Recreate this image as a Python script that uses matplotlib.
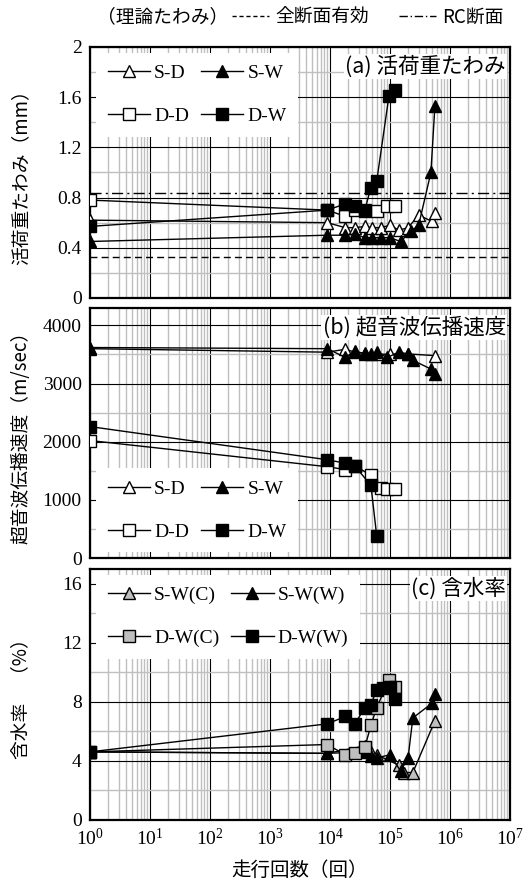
import matplotlib
matplotlib.use("Agg")
import matplotlib.pyplot as plt
from matplotlib.ticker import LogLocator, MultipleLocator, NullFormatter

plt.rcParams["font.family"] = ["Liberation Serif", "Noto Sans CJK JP"]
plt.rcParams["mathtext.fontset"] = "stix"

JP = ["Noto Sans CJK JP", "DejaVu Sans"]
GRAY = "#bfbfbf"

# theoretical deflection (mm)
DEF_FULL = 0.33   # 全断面有効
DEF_RC = 0.84     # RC断面

# (a) live-load deflection (mm)
a_sd_n = [1, 9e3, 1.8e4, 2.6e4, 3.8e4, 5e4, 7e4, 1.0e5, 1.4e5, 2.0e5, 3.0e5, 5.0e5, 5.6e5]
a_sd_v = [0.62, 0.60, 0.56, 0.56, 0.57, 0.56, 0.56, 0.58, 0.54, 0.56, 0.66, 0.61, 0.68]
a_sw_n = [1, 9e3, 1.8e4, 2.6e4, 3.8e4, 5e4, 7e4, 1.0e5, 1.5e5, 2.2e5, 3.0e5, 4.8e5, 5.6e5]
a_sw_v = [0.45, 0.50, 0.50, 0.51, 0.48, 0.48, 0.48, 0.48, 0.45, 0.53, 0.58, 1.00, 1.53]
a_dd_n = [1, 9e3, 1.8e4, 2.6e4, 3.8e4, 6e4, 9e4, 1.2e5]
a_dd_v = [0.78, 0.70, 0.65, 0.70, 0.69, 0.69, 0.73, 0.73]
a_dw_n = [1, 9e3, 1.8e4, 2.6e4, 3.8e4, 4.8e4, 6e4, 9.6e4, 1.2e5]
a_dw_v = [0.57, 0.70, 0.75, 0.73, 0.70, 0.88, 0.93, 1.61, 1.66]

# (b) ultrasonic velocity (m/sec)
b_sd_n = [1, 9e3, 1.8e4, 2.6e4, 3.8e4, 6e4, 1.0e5, 2.0e5, 5.6e5]
b_sd_v = [3600, 3540, 3590, 3540, 3520, 3510, 3500, 3510, 3480]
b_sw_n = [1, 9e3, 1.8e4, 2.6e4, 3.8e4, 4.8e4, 6e4, 9e4, 1.4e5, 2.0e5, 2.4e5, 4.8e5, 5.6e5]
b_sw_v = [3620, 3600, 3450, 3560, 3510, 3510, 3540, 3450, 3540, 3510, 3400, 3250, 3170]
b_dd_n = [1, 9e3, 1.8e4, 2.6e4, 4.8e4, 7e4, 9e4, 1.2e5]
b_dd_v = [2020, 1570, 1520, 1590, 1420, 1210, 1190, 1190]
b_dw_n = [1, 9e3, 1.8e4, 2.6e4, 4.8e4, 6e4]
b_dw_v = [2260, 1690, 1630, 1580, 1250, 380]

# (c) moisture content (%)
c_swc_n = [1, 9e3, 3.8e4, 4.8e4, 6e4, 1.4e5, 1.7e5, 2.4e5, 5.6e5]
c_swc_v = [4.6, 4.5, 5.0, 4.6, 4.4, 3.7, 3.2, 3.2, 6.7]
c_sww_n = [1, 9e3, 3.8e4, 4.8e4, 6e4, 1.0e5, 1.5e5, 2.0e5, 2.4e5, 5.0e5, 5.6e5]
c_sww_v = [4.6, 4.5, 4.6, 4.3, 4.2, 4.4, 3.3, 4.2, 6.9, 7.9, 8.5]
c_dwc_n = [1, 9e3, 1.8e4, 2.6e4, 3.8e4, 4.8e4, 6e4, 9.6e4, 1.2e5]
c_dwc_v = [4.6, 5.1, 4.4, 4.5, 4.9, 6.4, 7.6, 9.5, 9.0]
c_dww_n = [1, 9e3, 1.8e4, 2.6e4, 3.8e4, 4.8e4, 6e4, 7.5e4, 1.0e5, 1.2e5]
c_dww_v = [4.6, 6.5, 7.0, 6.5, 7.6, 7.8, 8.8, 8.9, 9.0, 8.2]

x_ticks = [1e0, 1e1, 1e2, 1e3, 1e4, 1e5, 1e6, 1e7]


def setup(ax, ymax, major, minor):
    ax.set_xscale("log")
    ax.set_xlim(1, 1e7)
    ax.set_ylim(0, ymax)
    ax.xaxis.set_major_locator(LogLocator(base=10, numticks=10))
    ax.xaxis.set_minor_locator(LogLocator(base=10, subs=range(2, 10), numticks=100))
    ax.xaxis.set_minor_formatter(NullFormatter())
    ax.yaxis.set_major_locator(MultipleLocator(major))
    ax.yaxis.set_minor_locator(MultipleLocator(minor))
    ax.grid(which="minor", color=GRAY, lw=1.0, zorder=0)
    ax.grid(which="major", color="black", lw=0.8, zorder=0)
    ax.set_axisbelow(True)
    ax.tick_params(which="both", length=0, labelsize=14, pad=6)
    for s in ax.spines.values():
        s.set_linewidth(1.6)


def series(ax, n, v, marker, fc, label):
    h, = ax.plot(n, v, color="black", lw=1.0, marker=marker, ms=9, mfc=fc,
                 mec="black", mew=1.0, label=label, zorder=3)
    return h


def panel_title(ax, text):
    ax.text(0.99, 0.965, text, transform=ax.transAxes, ha="right", va="top",
            fontsize=15.5, family=JP, zorder=5,
            bbox=dict(facecolor="white", edgecolor="none", pad=1.0))


def legend(ax, handles, loc):
    # column-major order so that rows read: first pair, second pair
    order = [handles[0], handles[2], handles[1], handles[3]]
    lg = ax.legend(order, [h.get_label() for h in order], loc=loc, ncol=2,
                   frameon=True, fancybox=False, edgecolor="none",
                   framealpha=1, fontsize=14, handlelength=2.2, handletextpad=0.2,
                   columnspacing=0.6, labelspacing=1.3, borderaxespad=0.3,
                   borderpad=0.6)
    lg.set_zorder(4)


fig = plt.figure(figsize=(5.27, 8.86), dpi=100)
axa = fig.add_axes([0.1708, 0.6637, 0.797, 0.2833])
axb = fig.add_axes([0.1708, 0.3702, 0.797, 0.2822])
axc = fig.add_axes([0.1708, 0.0748, 0.797, 0.2830])

# (a)
setup(axa, 2, 0.4, 0.2)
ha = [series(axa, a_sd_n, a_sd_v, "^", "white", "S-D"),
      series(axa, a_sw_n, a_sw_v, "^", "black", "S-W"),
      series(axa, a_dd_n, a_dd_v, "s", "white", "D-D"),
      series(axa, a_dw_n, a_dw_v, "s", "black", "D-W")]
axa.axhline(DEF_FULL, color="black", lw=1.0, ls=(0, (5, 3)), zorder=2)
axa.axhline(DEF_RC, color="black", lw=1.0, ls=(0, (8, 3, 1.5, 3)), zorder=2)
axa.set_yticks([0, 0.4, 0.8, 1.2, 1.6, 2])
axa.set_yticklabels(["0", "0.4", "0.8", "1.2", "1.6", "2"])
axa.tick_params(labelbottom=False)
axa.set_ylabel("活荷重たわみ（mm）", family=JP, fontsize=13.5)
legend(axa, ha, "upper left")
panel_title(axa, "(a) 活荷重たわみ")

# (b)
setup(axb, 4300, 1000, 500)
hb = [series(axb, b_sd_n, b_sd_v, "^", "white", "S-D"),
      series(axb, b_sw_n, b_sw_v, "^", "black", "S-W"),
      series(axb, b_dd_n, b_dd_v, "s", "white", "D-D"),
      series(axb, b_dw_n, b_dw_v, "s", "black", "D-W")]
axb.tick_params(labelbottom=False)
axb.set_ylabel("超音波伝播速度（m/sec）", family=JP, fontsize=13.5)
legend(axb, hb, "lower left")
panel_title(axb, "(b) 超音波伝播速度")

# (c)
setup(axc, 17, 4, 2)
hc = [series(axc, c_swc_n, c_swc_v, "^", GRAY, "S-W(C)"),
      series(axc, c_sww_n, c_sww_v, "^", "black", "S-W(W)"),
      series(axc, c_dwc_n, c_dwc_v, "s", GRAY, "D-W(C)"),
      series(axc, c_dww_n, c_dww_v, "s", "black", "D-W(W)")]
axc.set_xticks(x_ticks)
axc.set_ylabel("含水率　（%）", family=JP, fontsize=13.5)
axc.set_xlabel("走行回数（回）", family=JP, fontsize=14, labelpad=8)
legend(axc, hc, "upper left")
panel_title(axc, "(c) 含水率")

for ax in (axa, axb, axc):
    ax.yaxis.set_label_coords(-0.14, 0.5)

# theoretical-deflection key at the top
fig.text(0.185, 0.981, "（理論たわみ）", family=JP, fontsize=13.5, ha="left", va="center")
h_full, = axa.plot([], [], color="black", lw=1.0, ls=(0, (3, 2)))
h_rc, = axa.plot([], [], color="black", lw=1.0, ls=(0, (6, 2, 1, 2)))
fig.legend([h_full, h_rc], ["全断面有効", "RC断面"], loc="center left",
           bbox_to_anchor=(0.44, 0.981), ncol=2, frameon=False,
           prop={"family": JP, "size": 13.5}, handlelength=2.0, handletextpad=0.3,
           columnspacing=1.6, borderaxespad=0, borderpad=0)

fig.savefig("out.png", dpi=100, facecolor="white")
